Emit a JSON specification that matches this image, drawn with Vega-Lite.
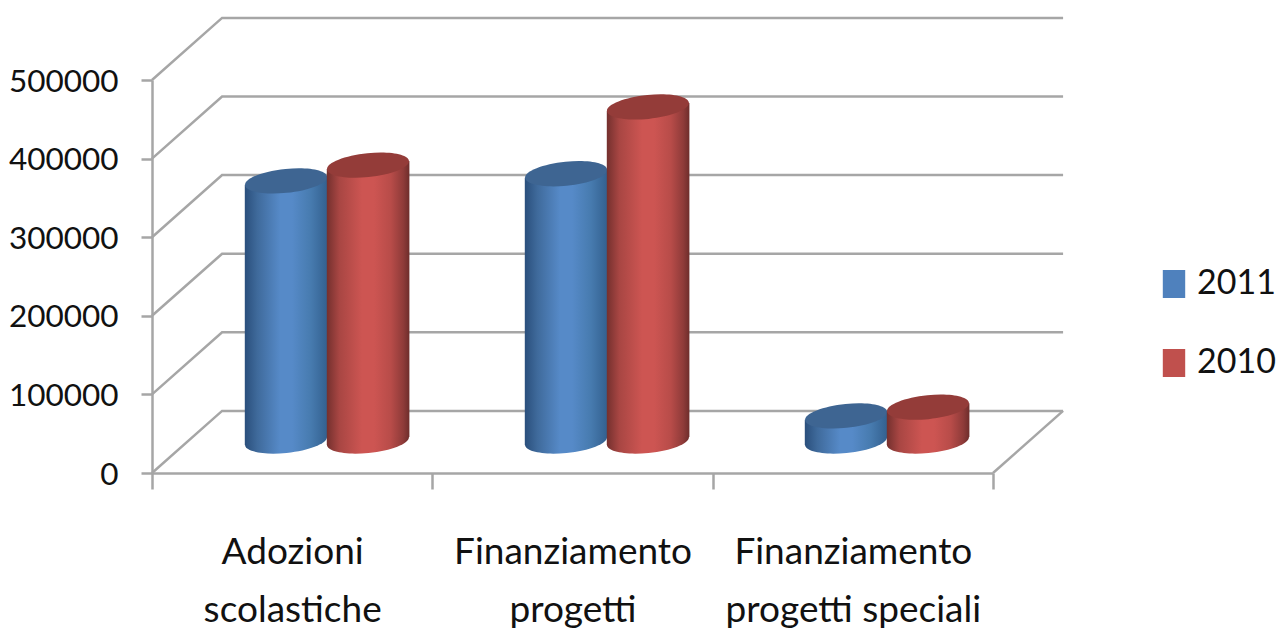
{
"$schema":"https://vega.github.io/schema/vega-lite/v6.json",
"width":841,"height":393,"autosize":{"type":"none"},
"padding":{"left":152,"top":80,"right":287,"bottom":159},
"background":"white",
"datasets":{
"bars":[
{"categoria":"Adozioni scolastiche","anno":"2011","valore":331000},
{"categoria":"Adozioni scolastiche","anno":"2010","valore":351000},
{"categoria":"Finanziamento progetti","anno":"2011","valore":340000},
{"categoria":"Finanziamento progetti","anno":"2010","valore":425000},
{"categoria":"Finanziamento progetti speciali","anno":"2011","valore":32000},
{"categoria":"Finanziamento progetti speciali","anno":"2010","valore":43000}],
"walls":[
{"g":"v0","px":0,"py":0},{"g":"v0","px":0.25,"py":79000},{"g":"v0","px":3.25,"py":79000},
{"g":"d","px":3,"py":0},{"g":"d","px":3.25,"py":79000},
{"g":"v1","px":0,"py":100000},{"g":"v1","px":0.25,"py":179000},{"g":"v1","px":3.25,"py":179000},
{"g":"v2","px":0,"py":200000},{"g":"v2","px":0.25,"py":279000},{"g":"v2","px":3.25,"py":279000},
{"g":"v3","px":0,"py":300000},{"g":"v3","px":0.25,"py":379000},{"g":"v3","px":3.25,"py":379000},
{"g":"v4","px":0,"py":400000},{"g":"v4","px":0.25,"py":479000},{"g":"v4","px":3.25,"py":479000},
{"g":"v5","px":0,"py":500000},{"g":"v5","px":0.25,"py":579000},{"g":"v5","px":3.25,"py":579000}]
},
"resolve":{"scale":{"x":"independent","y":"independent","xOffset":"independent"},"axis":{"x":"independent","y":"independent"}},
"layer":[
{"data":{"name":"walls"},"mark":{"type":"line","color":"#a6a6a6","strokeWidth":2.5,"clip":false},
"encoding":{"x":{"field":"px","type":"quantitative","scale":{"domain":[0,3],"nice":false},"axis":null},
"y":{"field":"py","type":"quantitative","scale":{"domain":[0,500000],"nice":false},"axis":null},
"detail":{"field":"g"},"order":{"field":"px"}}},
{"data":{"name":"bars"},"mark":{"type":"point","filled":true,"opacity":0,"size":10},
"encoding":{
"x":{"field":"categoria","type":"nominal","sort":null,"scale":{"type":"band","paddingInner":0,"paddingOuter":0},
"axis":{"title":null,"labelAngle":0,"domainColor":"#a6a6a6","domainWidth":2.5,"tickColor":"#a6a6a6","tickWidth":2.5,"tickSize":16,"tickBand":"extent","labelFont":"Lato","labelFontSize":37,"labelColor":"#111111","labelPadding":63,"labelLimit":400,"labelLineHeight":58,"labelBaseline":"middle",
"labelExpr":"datum.label=='Adozioni scolastiche'?['Adozioni','scolastiche']:datum.label=='Finanziamento progetti'?['Finanziamento','progetti']:datum.label=='Finanziamento progetti speciali'?['Finanziamento','progetti speciali']:''"}},
"y":{"field":"valore","type":"quantitative","scale":{"domain":[0,500000],"nice":false},
"axis":{"title":null,"values":[0,100000,200000,300000,400000,500000],"format":"d","grid":false,"domainColor":"#a6a6a6","domainWidth":2.5,"tickColor":"#a6a6a6","tickWidth":2.5,"tickSize":11,"labelFont":"Lato","labelFontSize":31.5,"labelColor":"#111111","labelPadding":23,"labelOffset":2}},
"color":{"field":"anno","type":"nominal","scale":{"domain":["2011","2010"],"range":["#4f81bd","#c0504d"]},
"legend":{"title":null,"orient":"none","legendX":1005,"legendY":187,"symbolType":"M-0.8,-1H0.8V1H-0.8Z","symbolSize":784,"symbolOpacity":1,"symbolStrokeWidth":0,"labelFont":"Lato","labelFontSize":34,"labelColor":"#111111","rowPadding":45,"labelOffset":6}}
}},
{"data":{"name":"bars"},"transform":[{"filter":"datum.anno=='2011'"}],
"mark":{"type":"point","filled":true,"opacity":1,"size":6724,"shape":"M-1,0.1 A1,0.29 -6 1 1 1,-0.1 A1,0.29 -6 1 1 -1,0.1 Z","fill":{"gradient":"linear","x1":0,"x2":1,"y1":0,"y2":0,"stops":[{"offset":0,"color":"#2a4f7c"},{"offset":0.15,"color":"#3f6a9b"},{"offset":0.425,"color":"#568ac8"},{"offset":0.575,"color":"#568ac8"},{"offset":0.8,"color":"#477baf"},{"offset":1,"color":"#33608f"}]}},
"encoding":{"x":{"field":"categoria","type":"nominal","sort":null,"scale":{"type":"band","range":[35,875],"paddingInner":0.415,"paddingOuter":0.2075},"axis":null},
"xOffset":{"field":"anno","type":"nominal","scale":{"domain":["2011","2010"],"padding":0.5}},
"y":{"datum":0,"type":"quantitative","scale":{"domain":[0,500000],"nice":false,"range":[361,-32]},"axis":null}}},
{"data":{"name":"bars"},"transform":[{"filter":"datum.anno=='2011'"}],
"mark":{"type":"rect","width":41.6,"yOffset":4,"y2Offset":4,"fill":{"gradient":"linear","x1":0,"x2":1,"y1":0,"y2":0,"stops":[{"offset":0,"color":"#2a4f7c"},{"offset":0.3,"color":"#3f6a9b"},{"offset":0.85,"color":"#568ac8"},{"offset":1,"color":"#568ac8"}]}},
"encoding":{"x":{"field":"categoria","type":"nominal","sort":null,"scale":{"type":"band","range":[35,875],"paddingInner":0.415,"paddingOuter":0.2075},"axis":null},
"xOffset":{"field":"anno","type":"nominal","scale":{"domain":["2011","2010"],"paddingInner":0,"paddingOuter":0,"range":[-20.5,143.5]}},
"y":{"field":"valore","type":"quantitative","scale":{"domain":[0,500000],"nice":false,"range":[361,-32]},"axis":null},"y2":{"datum":0}}},
{"data":{"name":"bars"},"transform":[{"filter":"datum.anno=='2011'"}],
"mark":{"type":"rect","width":41.6,"yOffset":-4,"y2Offset":-4,"fill":{"gradient":"linear","x1":0,"x2":1,"y1":0,"y2":0,"stops":[{"offset":0,"color":"#568ac8"},{"offset":0.15,"color":"#568ac8"},{"offset":0.6,"color":"#477baf"},{"offset":1,"color":"#33608f"}]}},
"encoding":{"x":{"field":"categoria","type":"nominal","sort":null,"scale":{"type":"band","range":[35,875],"paddingInner":0.415,"paddingOuter":0.2075},"axis":null},
"xOffset":{"field":"anno","type":"nominal","scale":{"domain":["2011","2010"],"paddingInner":0,"paddingOuter":0,"range":[20.5,184.5]}},
"y":{"field":"valore","type":"quantitative","scale":{"domain":[0,500000],"nice":false,"range":[361,-32]},"axis":null},"y2":{"datum":0}}},
{"data":{"name":"bars"},"transform":[{"filter":"datum.anno=='2011'"}],
"mark":{"type":"point","filled":true,"opacity":1,"size":6724,"shape":"M-1,0.1 A1,0.29 -6 1 1 1,-0.1 A1,0.29 -6 1 1 -1,0.1 Z","fill":"#3e6592"},
"encoding":{"x":{"field":"categoria","type":"nominal","sort":null,"scale":{"type":"band","range":[35,875],"paddingInner":0.415,"paddingOuter":0.2075},"axis":null},
"xOffset":{"field":"anno","type":"nominal","scale":{"domain":["2011","2010"],"padding":0.5}},
"y":{"field":"valore","type":"quantitative","scale":{"domain":[0,500000],"nice":false,"range":[361,-32]},"axis":null}}},
{"data":{"name":"bars"},"transform":[{"filter":"datum.anno=='2010'"}],
"mark":{"type":"point","filled":true,"opacity":1,"size":6724,"shape":"M-1,0.1 A1,0.29 -6 1 1 1,-0.1 A1,0.29 -6 1 1 -1,0.1 Z","fill":{"gradient":"linear","x1":0,"x2":1,"y1":0,"y2":0,"stops":[{"offset":0,"color":"#74302e"},{"offset":0.15,"color":"#a84643"},{"offset":0.425,"color":"#cd5552"},{"offset":0.575,"color":"#cd5552"},{"offset":0.775,"color":"#b84c49"},{"offset":0.925,"color":"#8f3b39"},{"offset":1,"color":"#6e2d2b"}]}},
"encoding":{"x":{"field":"categoria","type":"nominal","sort":null,"scale":{"type":"band","range":[35,875],"paddingInner":0.415,"paddingOuter":0.2075},"axis":null},
"xOffset":{"field":"anno","type":"nominal","scale":{"domain":["2011","2010"],"padding":0.5}},
"y":{"datum":0,"type":"quantitative","scale":{"domain":[0,500000],"nice":false,"range":[361,-32]},"axis":null}}},
{"data":{"name":"bars"},"transform":[{"filter":"datum.anno=='2010'"}],
"mark":{"type":"rect","width":41.6,"yOffset":4,"y2Offset":4,"fill":{"gradient":"linear","x1":0,"x2":1,"y1":0,"y2":0,"stops":[{"offset":0,"color":"#74302e"},{"offset":0.3,"color":"#a84643"},{"offset":0.85,"color":"#cd5552"},{"offset":1,"color":"#cd5552"}]}},
"encoding":{"x":{"field":"categoria","type":"nominal","sort":null,"scale":{"type":"band","range":[35,875],"paddingInner":0.415,"paddingOuter":0.2075},"axis":null},
"xOffset":{"field":"anno","type":"nominal","scale":{"domain":["2011","2010"],"paddingInner":0,"paddingOuter":0,"range":[-20.5,143.5]}},
"y":{"field":"valore","type":"quantitative","scale":{"domain":[0,500000],"nice":false,"range":[361,-32]},"axis":null},"y2":{"datum":0}}},
{"data":{"name":"bars"},"transform":[{"filter":"datum.anno=='2010'"}],
"mark":{"type":"rect","width":41.6,"yOffset":-4,"y2Offset":-4,"fill":{"gradient":"linear","x1":0,"x2":1,"y1":0,"y2":0,"stops":[{"offset":0,"color":"#cd5552"},{"offset":0.15,"color":"#cd5552"},{"offset":0.55,"color":"#b84c49"},{"offset":0.85,"color":"#8f3b39"},{"offset":1,"color":"#6e2d2b"}]}},
"encoding":{"x":{"field":"categoria","type":"nominal","sort":null,"scale":{"type":"band","range":[35,875],"paddingInner":0.415,"paddingOuter":0.2075},"axis":null},
"xOffset":{"field":"anno","type":"nominal","scale":{"domain":["2011","2010"],"paddingInner":0,"paddingOuter":0,"range":[20.5,184.5]}},
"y":{"field":"valore","type":"quantitative","scale":{"domain":[0,500000],"nice":false,"range":[361,-32]},"axis":null},"y2":{"datum":0}}},
{"data":{"name":"bars"},"transform":[{"filter":"datum.anno=='2010'"}],
"mark":{"type":"point","filled":true,"opacity":1,"size":6724,"shape":"M-1,0.1 A1,0.29 -6 1 1 1,-0.1 A1,0.29 -6 1 1 -1,0.1 Z","fill":"#943c39"},
"encoding":{"x":{"field":"categoria","type":"nominal","sort":null,"scale":{"type":"band","range":[35,875],"paddingInner":0.415,"paddingOuter":0.2075},"axis":null},
"xOffset":{"field":"anno","type":"nominal","scale":{"domain":["2011","2010"],"padding":0.5}},
"y":{"field":"valore","type":"quantitative","scale":{"domain":[0,500000],"nice":false,"range":[361,-32]},"axis":null}}}
],
"config":{"view":{"stroke":null}}
}
